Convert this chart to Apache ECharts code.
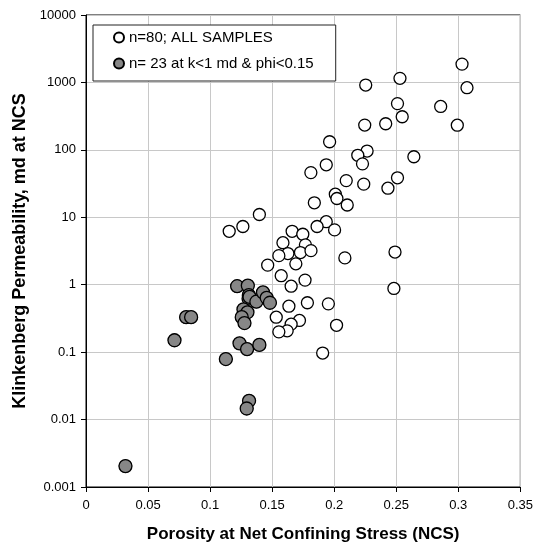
<!DOCTYPE html>
<html>
<head>
<meta charset="utf-8">
<script src="https://cdn.jsdelivr.net/npm/echarts@6/dist/echarts.min.js"></script>
<style>html,body{margin:0;padding:0;background:#fff}#c{width:536px;height:548px}</style>
</head>
<body>
<div id="c"></div>
<script>
// Open circles: visible samples (the gray samples are included further below, as part of all 80)
const openPorosity = [0.303,0.307,0.253,0.2254,0.2858,0.2992,0.251,0.2548,0.2246,0.2415,
  0.1963,0.2265,0.219,0.2228,0.2642,0.1936,0.1812,0.2097,0.2238,0.251,
  0.2433,0.2009,0.2022,0.2105,0.184,0.1936,0.1862,0.2003,0.1661,0.1747,
  0.1587,0.1768,0.1627,0.1728,0.1813,0.1554,0.249,0.2086,0.1691,0.1573,
  0.1765,0.1653,0.2481,0.1635,0.1784,0.1953,0.2019,0.1907,0.172,0.1653,
  0.1621,0.1554,0.1533,0.1397,0.1264,0.1154,0.1464];
const openPerm = [1870,835,1150,915,440,232,485,310,233,244,
  132,96,83,62,79,60,46,35,31,38.5,
  27,22,19,15.2,16.4,8.6,7.3,6.5,6.2,5.6,
  4.2,3.9,2.9,3.0,3.2,2.7,3.05,2.5,2.04,1.36,
  1.17,0.95,0.88,0.48,0.54,0.52,0.25,0.097,0.295,0.26,
  0.207,0.2,0.33,11,7.3,6.2,1.95];
// Gray: n=23 at k<1 md & phi<0.15
const grayPorosity = [0.1218,0.1304,0.1312,0.1310,0.1318,0.1373,0.1426,0.1456,0.1482,0.1269,
  0.1301,0.1255,0.1277,0.1237,0.1298,0.1397,0.1127,0.1314,0.1295,0.0807,
  0.0847,0.0713,0.0318];
const grayPerm = [0.95,0.97,0.70,0.62,0.66,0.56,0.77,0.64,0.54,0.43,
  0.39,0.33,0.27,0.135,0.111,0.128,0.079,0.019,0.0146,0.33,
  0.33,0.15,0.00204];
const xTickLabels = ['0','0.05','0.1','0.15','0.2','0.25','0.3','0.35'];
const yTickLabels = ['0.001','0.01','0.1','1','10','100','1000','10000'];
const seriesNames = ['n=80; ALL SAMPLES','n= 23 at k<1 md & phi<0.15'];
const xTitle = 'Porosity at Net Confining Stress (NCS)';
const yTitle = 'Klinkenberg Permeability, md at NCS';

const allX = openPorosity.concat(grayPorosity);
const allY = openPerm.concat(grayPerm);
const openData = allX.map((x,i)=>[x, allY[i]]);
const grayData = grayPorosity.map((x,i)=>[x, grayPerm[i]]);

const FONT = '"Liberation Sans", Arial, sans-serif';
const chart = echarts.init(document.getElementById('c'), null, {renderer:'canvas'});
chart.setOption({
  animation:false,
  backgroundColor:'#fff',
  grid:{left:86,right:13,top:15,bottom:61,show:true,borderColor:'#000',borderWidth:1,backgroundColor:'transparent'},
  legend:{
    left:93, top:25, orient:'vertical',
    padding:[5,22,10,20], itemGap:11, itemWidth:10, itemHeight:10,
    backgroundColor:'#fff', borderColor:'#222', borderWidth:1, borderRadius:0,
    textStyle:{fontFamily:FONT,fontSize:15,color:'#000'},
    data:[{name:seriesNames[0],icon:'circle'},{name:seriesNames[1],icon:'circle'}]
  },
  xAxis:{
    type:'value', min:0, max:0.35, interval:0.05,
    name:xTitle, nameLocation:'middle', nameGap:39,
    nameTextStyle:{fontFamily:FONT,fontSize:17,fontWeight:'bold',color:'#000'},
    axisLine:{onZero:false,lineStyle:{color:'#000',width:1}},
    axisTick:{show:true,inside:false,length:5,lineStyle:{color:'#000'}},
    axisLabel:{fontFamily:FONT,fontSize:13,color:'#000',margin:12,
      formatter:(v)=>xTickLabels[Math.round(v/0.05)]},
    splitLine:{show:true,lineStyle:{color:'#c8c8c8',width:1}}
  },
  yAxis:{
    type:'log', logBase:10, min:0.001, max:10000,
    name:yTitle, nameLocation:'middle', nameGap:57,
    nameTextStyle:{fontFamily:FONT,fontSize:18,fontWeight:'bold',color:'#000'},
    axisLine:{onZero:false,lineStyle:{color:'#000',width:1}},
    axisTick:{show:true,inside:false,length:5,lineStyle:{color:'#000'}},
    minorTick:{show:false},
    axisLabel:{fontFamily:FONT,fontSize:13,color:'#000',margin:10,
      formatter:(v)=>{const k=Math.round(Math.log10(v))+3; return yTickLabels[k]!==undefined?yTickLabels[k]:'';}},
    splitLine:{show:true,lineStyle:{color:'#c8c8c8',width:1}}
  },
  series:[
    {name:seriesNames[0],type:'scatter',data:openData,symbol:'circle',symbolSize:12,
      itemStyle:{color:'#fff',borderColor:'#000',borderWidth:1.3,opacity:1},z:2},
    {name:seriesNames[1],type:'scatter',data:grayData,symbol:'circle',symbolSize:13,
      itemStyle:{color:'#878787',borderColor:'#000',borderWidth:1.3,opacity:1},z:3}
  ]
});
</script>
</body>
</html>
